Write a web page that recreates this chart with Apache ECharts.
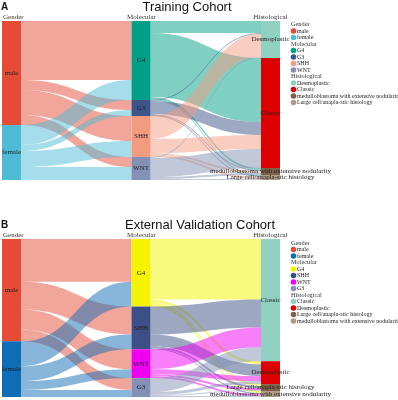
<!DOCTYPE html>
<html>
<head>
<meta charset="utf-8">
<script src="https://cdn.jsdelivr.net/npm/echarts@6/dist/echarts.min.js"></script>
<style>html,body{margin:0;padding:0;background:#fff;}#c{width:398px;height:400px;}</style>
</head>
<body>
<div id="c"></div>
<script>
// ---------- DATA ----------
const stageTitles = ['Gender', 'Molecular', 'Histological'];

// Panel A: Training Cohort
const genderA = ['male', 'female'];
const molecularA = ['G4', 'G3', 'SHH', 'WNT'];
const histA = ['Desmoplastic', 'Classic', 'medulloblastoma with extensive nodularity', 'Large cell/anapla-stic histology'];
// rows: gender, cols: molecular
const genderMolA = [
  [59, 10, 25, 10],
  [20, 6, 16, 13]
];
// rows: molecular, cols: histological
const molHistA = [
  [12, 64, 2, 1],
  [1, 13, 1, 1],
  [23, 14, 2, 2],
  [1, 19, 2, 1]
];

// Panel B: External Validation Cohort
const genderB = ['male', 'female'];
const molecularB = ['G4', 'SHH', 'WNT', 'G3'];
const histB = ['Classic', 'Desmoplastic', 'Large cell/anapla-stic histology', 'medulloblastoma with extensive nodularity'];
const genderMolB = [
  [43, 28, 20, 12],
  [25, 15, 9, 7]
];
const molHistB = [
  [61, 3, 2, 2],
  [28, 12, 2, 1],
  [20, 5, 2, 2],
  [14, 3, 1, 1]
];

// ---------- STYLES ----------
const colorsA = {
  gender: ['#E64B35', '#4DBBD5'],
  molecular: ['#00A087', '#3C5488', '#F39B7F', '#8491B4'],
  hist: ['#91D1C2', '#DC0000', '#7E6148', '#B09C85']
};
const colorsB = {
  gender: ['#E64B35', '#0F6DB5'],
  molecular: ['#F4F400', '#3C4F86', '#F000F0', '#8491B4'],
  hist: ['#91D1C2', '#DC0000', '#7E6148', '#B09C85']
};

const SERIF = 'Liberation Serif, DejaVu Serif, serif';
const SANS = 'Liberation Sans, Arial, sans-serif';

function buildSeries(gender, molecular, hist, gm, mh, colors, top, height) {
  const nodes = [];
  gender.forEach((n, i) => nodes.push({ name: n, itemStyle: { color: colors.gender[i] } }));
  molecular.forEach((n, i) => nodes.push({ name: n, itemStyle: { color: colors.molecular[i] } }));
  hist.forEach((n, i) => nodes.push({ name: n, itemStyle: { color: colors.hist[i] } }));
  const links = [];
  gender.forEach((g, i) => molecular.forEach((m, j) => {
    if (gm[i][j] > 0) links.push({ source: g, target: m, value: gm[i][j] });
  }));
  molecular.forEach((m, i) => hist.forEach((h, j) => {
    if (mh[i][j] > 0) links.push({ source: m, target: h, value: mh[i][j] });
  }));
  return {
    type: 'sankey',
    left: 2,
    top: top,
    width: 278,
    height: height,
    nodeWidth: 19,
    nodeGap: 0,
    layoutIterations: 0,
    draggable: false,
    silent: true,
    emphasis: { disabled: true },
    data: nodes,
    links: links,
    itemStyle: { borderWidth: 0 },
    lineStyle: { color: 'source', opacity: 0.5, curveness: 0.5 },
    label: {
      show: true,
      position: 'inside',
      fontFamily: SERIF,
      fontSize: 7,
      color: '#222'
    }
  };
}

const seriesA = buildSeries(genderA, molecularA, histA, genderMolA, molHistA, colorsA, 21, 159);
const seriesB = buildSeries(genderB, molecularB, histB, genderMolB, molHistB, colorsB, 239, 158);

// ---------- GRAPHIC (titles, stage headers, legends) ----------
const graphics = [];
function txt(x, y, s, size, font, opts) {
  graphics.push({
    type: 'text', x: x, y: y, silent: true,
    style: Object.assign({ text: s, fontSize: size, fontFamily: font, fill: '#222', textVerticalAlign: 'middle' }, opts || {})
  });
}
function panelDecor(letter, title, yTop, titleX, gender, molecular, hist, colors, legendY) {
  txt(1, yTop + 6, letter, 10, SANS, { fontWeight: 'bold', fill: '#111' });
  txt(titleX, yTop + 6, title, 13, SANS, { textAlign: 'center', fill: '#111' });
  const hy = yTop + 16;
  txt(3, hy, stageTitles[0], 7, SERIF, { fill: '#333' });
  txt(141.5, hy, stageTitles[1], 7, SERIF, { fill: '#333', textAlign: 'center' });
  txt(270.5, hy, stageTitles[2], 7, SERIF, { fill: '#333', textAlign: 'center' });
  // legend
  const step = 6.5;
  let y = legendY;
  const groups = [
    [stageTitles[0], gender, colors.gender],
    [stageTitles[1], molecular, colors.molecular],
    [stageTitles[2], hist, colors.hist]
  ];
  groups.forEach(([t, items, cols]) => {
    txt(291, y, t, 6.3, SERIF, { fill: '#333' });
    y += step;
    items.forEach((it, i) => {
      graphics.push({ type: 'circle', silent: true, shape: { cx: 293.5, cy: y, r: 2.8 }, style: { fill: cols[i] } });
      txt(297, y, it, 6, SERIF, { fill: '#222' });
      y += step;
    });
  });
}
panelDecor('A', 'Training Cohort', 1, 187, genderA, molecularA, histA, colorsA, 24.5);
panelDecor('B', 'External Validation Cohort', 219, 200, genderB, molecularB, histB, colorsB, 243);

const chart = echarts.init(document.getElementById('c'), null, { renderer: 'canvas' });
chart.setOption({
  animation: false,
  backgroundColor: '#fff',
  series: [seriesA, seriesB],
  graphic: { elements: graphics }
});
</script>
</body>
</html>
